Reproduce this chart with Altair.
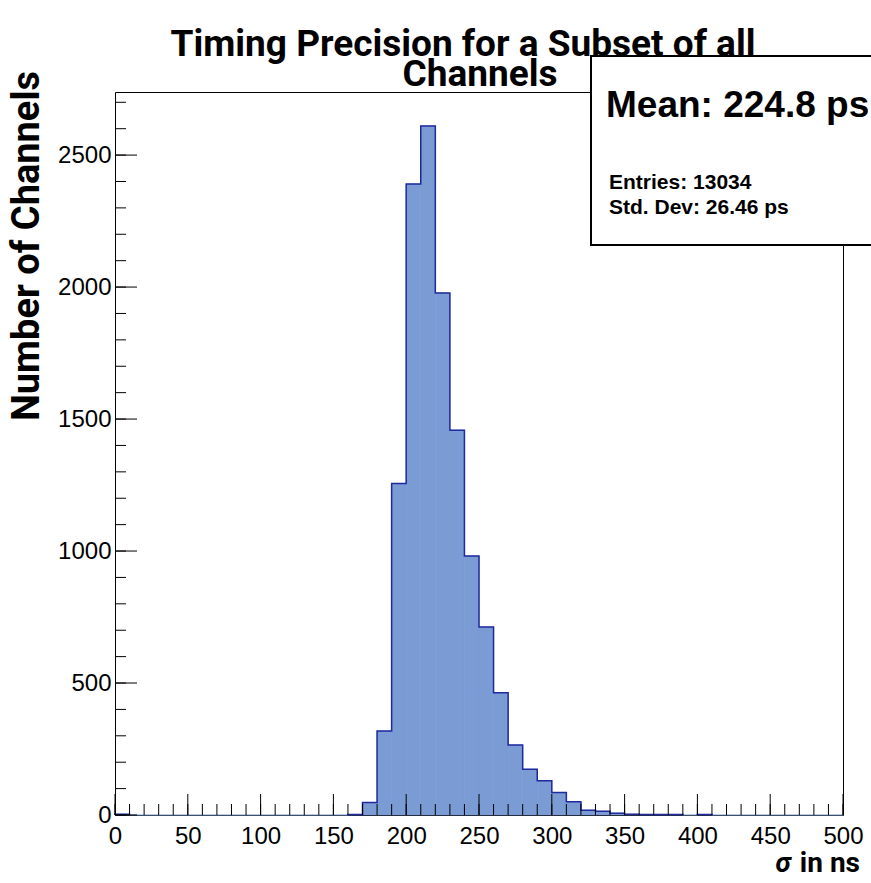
import altair as alt
import pandas as pd

# ---------------- data ----------------
bin_width = 10
bin_starts = list(range(0, 500, 10))
counts = [3, 0, 0, 0, 0, 0, 0, 0, 0, 0,
          0, 0, 0, 0, 0, 0, 2, 47, 318, 1256,
          2390, 2610, 1978, 1458, 981, 712, 463, 265, 173, 130,
          85, 50, 18, 14, 7, 3, 2, 2, 2, 0,
          2, 0, 0, 0, 0, 0, 0, 0, 0, 0]
x_major = list(range(0, 501, 50))
x_minor = list(range(0, 501, 10))
y_major = list(range(0, 2501, 500))
y_minor = list(range(0, 2701, 100))
title_lines = ["Timing Precision for a Subset of all", "Channels"]
stats_mean = "Mean: 224.8 ps"
stats_lines = ["Entries: 13034", "Std. Dev: 26.46 ps"]

W, H = 728, 723
x_scale = alt.Scale(domain=[0, 500], nice=False, zero=False)
y_scale = alt.Scale(domain=[0, 2739], nice=False)

hist = pd.DataFrame({"lo": bin_starts,
                     "hi": [b + bin_width for b in bin_starts],
                     "count": counts})

# outline: one step path per run of non-empty bins (as ROOT draws it)
rows = []
seg, prev_nonzero, order = 0, False, 0
for lo, c in zip(bin_starts, counts):
    if c > 0:
        if not prev_nonzero:
            seg += 1
            rows.append({"edge": lo, "level": 0, "seg": seg, "order": order}); order += 1
        rows.append({"edge": lo, "level": c, "seg": seg, "order": order}); order += 1
        last_hi, last_c = lo + bin_width, c
        prev_nonzero = True
    else:
        if prev_nonzero:
            rows.append({"edge": last_hi, "level": last_c, "seg": seg, "order": order}); order += 1
            rows.append({"edge": last_hi, "level": 0, "seg": seg, "order": order}); order += 1
        prev_nonzero = False
step = pd.DataFrame(rows)

FILL = "#7a9bd3"
LINE = "#1f2a9e"

x_axis = alt.Axis(values=x_major, title=None, ticks=False, domain=False,
                  grid=False, labelFont="Liberation Sans", labelFontSize=24,
                  labelColor="black", labelPadding=9, format="d",
                  labelFlush=False, labelOverlap=False)
y_axis = alt.Axis(values=y_major, title=None, ticks=False, domain=False,
                  grid=False, labelFont="Liberation Sans", labelFontSize=24,
                  labelColor="black", labelPadding=4, format="d",
                  labelFlush=False, labelOverlap=False)

bars = alt.Chart(hist).mark_rect(color=FILL, stroke=FILL, strokeWidth=0.6).encode(
    x=alt.X("lo:Q", scale=x_scale, axis=x_axis),
    x2="hi:Q",
    y=alt.Y("count:Q", scale=y_scale, axis=y_axis),
    y2=alt.datum(0),
)

outline = alt.Chart(step).mark_line(interpolate="step-after", color=LINE,
                                    strokeWidth=1.5).encode(
    x=alt.X("edge:Q", scale=x_scale, title=None),
    y=alt.Y("level:Q", scale=y_scale, title=None),
    detail="seg:N",
    order="order:Q",
)

def xticks(vals, length):
    return alt.Chart(pd.DataFrame({"t": vals})).mark_rule(color="black", strokeWidth=1).encode(
        x=alt.X("t:Q", scale=x_scale, title=None),
        y=alt.value(H), y2=alt.value(H - length))

def yticks(vals, length):
    return alt.Chart(pd.DataFrame({"t": vals})).mark_rule(color="black", strokeWidth=1).encode(
        y=alt.Y("t:Q", scale=y_scale, title=None),
        x=alt.value(0), x2=alt.value(length))

one = alt.Data(values=[{}])

def label(text, x, y, size, font="Roboto", weight="bold", align="center",
          angle=0, style="normal", baseline="alphabetic"):
    return alt.Chart(one).mark_text(font=font, fontSize=size, fontWeight=weight,
                                    align=align, angle=angle, fontStyle=style,
                                    baseline=baseline, color="black").encode(
        x=alt.value(x), y=alt.value(y), text=alt.value(text))

box = alt.Chart(one).mark_rect(fill="white", stroke="black", strokeWidth=2).encode(
    x=alt.value(476), x2=alt.value(800), y=alt.value(-36), y2=alt.value(153))

layers = [
    bars, outline,
    xticks(x_minor, 11), xticks(x_major, 21),
    yticks(y_minor, 11), yticks(y_major, 22),
    box,
    label(stats_mean, 491, 25, 37, font="Liberation Sans", align="left"),
    label(stats_lines[0], 494, 97, 21, font="Liberation Sans", align="left"),
    label(stats_lines[1], 494, 122, 21, font="Liberation Sans", align="left"),
    label(title_lines[0], 348, -36, 37),
    label(title_lines[1], 365, -6, 37),
    label("Number of Channels", -87, 154, 38, angle=270, baseline="middle"),
    label("in ns", 745, 780, 28, align="right"),
    label("σ", 676, 780, 28, align="right", style="italic"),
]

chart = alt.layer(*layers).properties(
    width=W, height=H,
    autosize=alt.AutoSizeParams(type="none"),
    padding={"left": 115, "top": 92, "right": 28, "bottom": 68},
).configure(background="white").configure_view(stroke="black", strokeWidth=1)

chart.save("out.html", embed_options={"renderer": "svg", "actions": False})
